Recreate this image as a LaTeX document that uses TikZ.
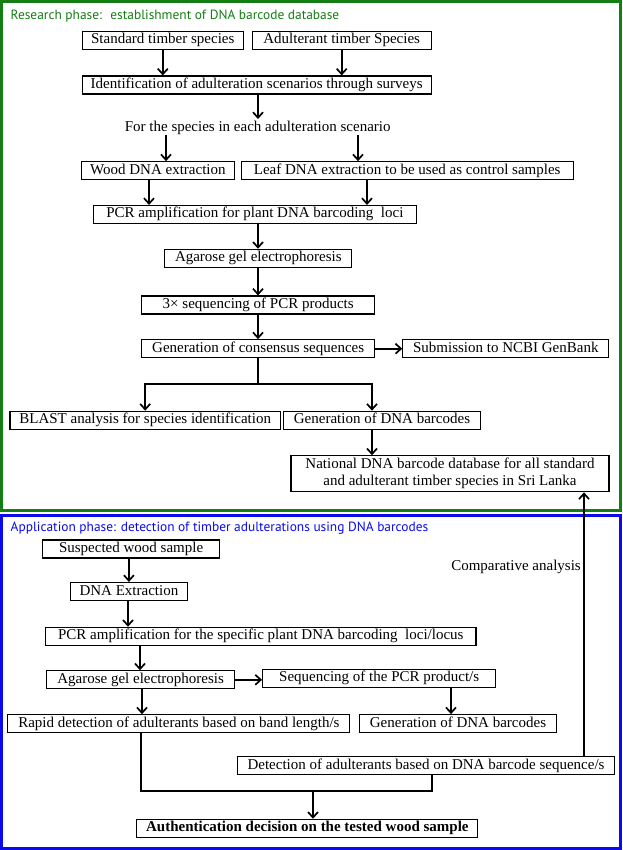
\documentclass[tikz,border=0pt]{standalone}
\usepackage{fontspec}
\setmainfont{Liberation Serif}
\newfontfamily\titlefont{PT Sans}
\usetikzlibrary{arrows.meta,calc}
\definecolor{phgreen}{RGB}{20,125,20}
\definecolor{phblue}{RGB}{10,10,235}
\tikzset{
  basebox/.style={draw, line width=1.1pt, inner xsep=4pt, inner ysep=2pt,
    font=\fontsize{15}{17}\selectfont, align=center},
  box/.style={basebox, text height=10.5pt, text depth=3.5pt},
  plain/.style={inner sep=0pt, font=\fontsize{15}{17}\selectfont},
  conn/.style={line width=1.8pt},
  arr/.style={conn, -{Straight Barb[length=5.5pt,width=10pt,line width=1.7pt]}},
  frame/.style={line width=3pt},
  ttl/.style={inner sep=0pt, anchor=west, font=\titlefont\fontsize{13.4}{16}\selectfont}
}
\begin{document}
\begin{tikzpicture}[x=1pt,y=-1pt]
\useasboundingbox (0,0) rectangle (622,850);
% frames
\draw[frame, phgreen] (1.5,1.5) rectangle (620.5,510.5);
\draw[frame, phblue] (1.5,515.5) rectangle (620.5,848.5);
\node[ttl, text=phgreen] (t1) at (10.5,16) {Research phase:~ establishment of DNA barcode database};
\node[ttl, text=phblue] (t2) at (10.5,528) {Application phase: detection of timber adulterations using DNA barcodes};

% research phase nodes
\node[box, minimum width=161.5] (std) at (162.8,40.5) {Standard timber species};
\node[box, minimum width=179] (adu) at (341.7,40.5) {Adulterant timber Species};
\node[box, minimum width=349] (ident) at (256.7,85) {Identification of adulteration scenarios through surveys};
\node[plain] (fort) at (257.7,128) {For the species in each adulteration scenario};
\node[box, minimum width=153] (wood) at (157.9,170.7) {Wood DNA extraction};
\node[box, minimum width=332] (leaf) at (407.2,170.7) {Leaf DNA extraction to be used as control samples};
\node[box, minimum width=323] (pcr) at (254.9,214.5) {PCR amplification for plant DNA barcoding~ loci};
\node[box, minimum width=187] (agar) at (258.3,258.3) {Agarose gel electrophoresis};
\node[box, minimum width=233] (seq3) at (258.2,305) {3× sequencing of PCR products};
\node[box, minimum width=233] (cons) at (258.2,348.7) {Generation of consensus sequences};
\node[box, minimum width=206] (ncbi) at (505.8,348.7) {Submission to NCBI GenBank};
\node[box, minimum width=270.5] (blast) at (145.2,420.2) {BLAST analysis for species identification};
\node[box, minimum width=197.6] (gdb) at (382,420.2) {Generation of DNA barcodes};
\node[basebox, minimum width=318, minimum height=36] (natdb) at (450,473.8) {National DNA barcode database for all standard\\and adulterant timber species in Sri Lanka};

% application phase nodes
\node[box, minimum width=176.6] (susp) at (131.1,549) {Suspected wood sample};
\node[box, minimum width=116.6] (dnaext) at (128.9,591.5) {DNA Extraction};
\node[box, minimum width=430.4] (pcr2) at (260.8,636.3) {PCR amplification for the specific plant DNA barcoding~ loci/locus};
\node[box, minimum width=188.4] (agar2) at (140.6,679.8) {Agarose gel electrophoresis};
\node[box, minimum width=233.2] (seqp) at (379.2,678.3) {Sequencing of the PCR product/s};
\node[box, minimum width=342] (rapid) at (178.9,723.7) {Rapid detection of adulterants based on band length/s};
\node[box, minimum width=197] (gdb2) at (458,723.7) {Generation of DNA barcodes};
\node[box, minimum width=377.6] (detect) at (426,765.5) {Detection of adulterants based on DNA barcode sequence/s};
\node[box, minimum width=341, font=\fontsize{15}{17}\selectfont\bfseries] (auth) at (307.4,828.3) {Authentication decision on the tested wood sample};
\node[plain, anchor=east] (comp) at (581,566.7) {Comparative analysis};

% x positions of connectors
\coordinate (xa) at (166,0);
\coordinate (xb) at (358,0);
\coordinate (xc) at (149,0);
\coordinate (xd) at (367,0);
\coordinate (xg) at (372,0);
\coordinate (j1) at (258,384);
\coordinate (xe) at (128,0);
\coordinate (xf) at (140,0);
\coordinate (xh) at (142,0);
\coordinate (xi) at (451,0);
\coordinate (xr) at (141,0);
\coordinate (xs) at (432,0);
\coordinate (j2) at (313,791);
\coordinate (xv) at (584,0);
\coordinate (xm) at (258,0);

% research connectors
\draw[arr] (std.south) -- (std.south |- ident.north);
\draw[arr] (adu.south) -- (adu.south |- ident.north);
\draw[arr] (ident.south -| xm) -- ([yshift=2pt]fort.north -| xm);
\draw[arr] (fort.south -| xa) -- (wood.north -| xa);
\draw[arr] (fort.south -| xb) -- (leaf.north -| xb);
\draw[arr] (wood.south -| xc) -- (pcr.north -| xc);
\draw[arr] (leaf.south -| xd) -- (pcr.north -| xd);
\draw[arr] (pcr.south -| xm) -- (agar.north -| xm);
\draw[arr] (agar.south -| xm) -- (seq3.north -| xm);
\draw[arr] (seq3.south -| xm) -- (cons.north -| xm);
\draw[arr] (cons.east) -- (ncbi.west);
\draw[conn] (cons.south -| j1) -- (j1);
\draw[arr] (j1) -| (blast.north);
\draw[arr] (j1) -| (gdb.north -| xg);
\draw[arr] (gdb.south -| xg) -- (natdb.north -| xg);

% application connectors
\draw[arr] (susp.south -| dnaext.north) -- (dnaext.north);
\draw[arr] (dnaext.south -| xe) -- (pcr2.north -| xe);
\draw[arr] (pcr2.south -| xf) -- (agar2.north -| xf);
\draw[arr] (agar2.east) -- (agar2.east -| seqp.west);
\draw[arr] (agar2.south -| xh) -- (rapid.north -| xh);
\draw[arr] (seqp.south -| xi) -- (gdb2.north -| xi);
\draw[conn] (rapid.south -| xr) -- (xr |- j2) -- (xs |- j2) -- (detect.south -| xs);
\draw[arr] (j2) -- (auth.north -| j2);
\draw[arr] (detect.north -| xv) -- (natdb.south -| xv);
\end{tikzpicture}
\end{document}
